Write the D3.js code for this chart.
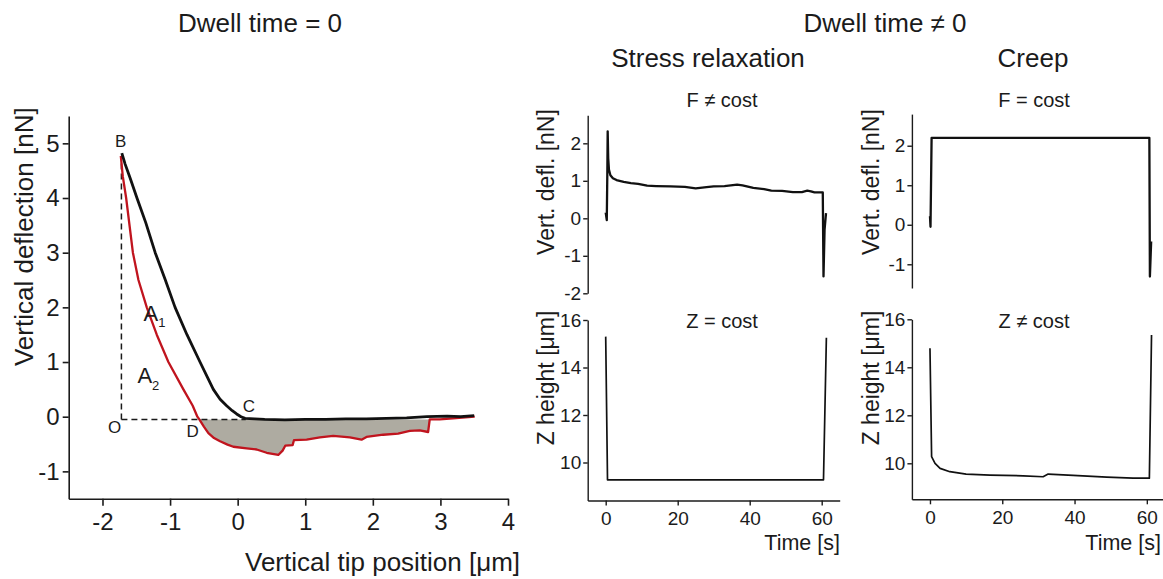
<!DOCTYPE html>
<html>
<head>
<meta charset="utf-8">
<script src="https://cdn.jsdelivr.net/npm/d3@7"></script>
<style>
    body { margin: 0; background: #fff; }
    svg { display: block; font-family: "Liberation Sans", Arial, sans-serif; }
    text { fill: #1b1b1b; }
</style>
</head>
<body>
<svg id="chart" width="1163" height="579"></svg>
<script>
// ---- Dwell time = 0 : force curve (approach / retract) ----
const approachX = [-1.714, -1.665, -1.59, -1.49, -1.36, -1.22, -1.07, -0.926, -0.75, -0.557, -0.45, -0.36, -0.26, -0.163, -0.08, -0.015, 0.05, 0.11, 0.25, 0.4, 0.7, 1.0, 1.3, 1.6, 1.9, 2.2, 2.5, 2.8, 3.1, 3.3, 3.5];
const approachY = [4.82, 4.62, 4.36, 4.0, 3.55, 3.0, 2.5, 2.0, 1.5, 1.0, 0.73, 0.5, 0.32, 0.2, 0.11, 0.05, 0.0, -0.03, -0.04, -0.05, -0.06, -0.05, -0.05, -0.04, -0.04, -0.03, -0.02, 0.0, 0.01, 0.0, 0.02];

const retractX = [-1.729, -1.70, -1.65, -1.55, -1.468, -1.345, -1.197, -1.025, -0.803, -0.665, -0.596, -0.567, -0.5, -0.433, -0.35, -0.261, -0.15, -0.064, 0.133, 0.281, 0.429, 0.601, 0.665, 0.704, 0.813, 0.833, 1.02, 1.217, 1.414, 1.66, 1.833, 1.906, 2.153, 2.374, 2.547, 2.695, 2.818, 2.842, 2.99, 3.187, 3.507];
const retractY = [4.77, 4.4, 4.0, 3.0, 2.5, 2.0, 1.5, 1.0, 0.5, 0.2, 0.0, -0.05, -0.18, -0.3, -0.39, -0.45, -0.51, -0.55, -0.58, -0.60, -0.66, -0.70, -0.62, -0.53, -0.52, -0.43, -0.42, -0.38, -0.35, -0.38, -0.42, -0.37, -0.33, -0.31, -0.26, -0.25, -0.28, -0.05, -0.05, -0.03, 0.0];

const baseLevel = -0.05;   // dashed O-C line / top of shaded area
const pointB = -1.72;       // x of vertical dashed line

const leftXTicks = [-2, -1, 0, 1, 2, 3, 4];
const leftXMinor = [-2.5, -1.5, -0.5, 0.5, 1.5, 2.5, 3.5];
const leftYTicks = [-1, 0, 1, 2, 3, 4, 5];
const leftYMinor = [-1.5, -0.5, 0.5, 1.5, 2.5, 3.5, 4.5, 5.5];

// ---- Stress relaxation ----
const srForceT = [0.0, 0.3, 0.45, 0.55, 0.7, 0.9, 1.3, 2, 3, 5, 7, 9, 11.5, 14, 18, 22, 25, 28, 30, 33, 36.5, 38, 41, 44, 46, 49, 52, 54.5, 56, 57, 58, 60.3, 60.5, 60.8, 61.2];
const srForceV = [0.15, -0.05, 1.2, 2.32, 1.6, 1.3, 1.15, 1.07, 1.02, 0.97, 0.94, 0.92, 0.87, 0.86, 0.85, 0.84, 0.80, 0.83, 0.85, 0.86, 0.90, 0.88, 0.81, 0.78, 0.74, 0.73, 0.70, 0.70, 0.74, 0.72, 0.69, 0.69, -1.55, -0.3, 0.14];
const srZT = [0, 0.5, 60.5, 61.3];
const srZV = [15.3, 9.27, 9.27, 15.25];

// ---- Creep ----
const crForceT = [0, 0.15, 0.45, 5, 10, 20, 30, 40, 50, 60.7, 60.85, 61.2];
const crForceV = [0.22, -0.05, 2.2, 2.2, 2.2, 2.2, 2.2, 2.2, 2.2, 2.2, -1.31, -0.42];
const crZT = [0, 0.45, 1.4, 2.8, 5.5, 10, 16.6, 25.8, 31.3, 32.7, 39.6, 48.9, 56.2, 60.7, 61.3];
const crZV = [14.79, 10.28, 10.0, 9.79, 9.65, 9.55, 9.51, 9.48, 9.44, 9.55, 9.5, 9.42, 9.38, 9.38, 15.35];

const timeTicks = [0, 20, 40, 60];
const timeMinor = [10, 30, 50];
const forceTicks = [-2, -1, 0, 1, 2];
const forceMinor = [-1.5, -0.5, 0.5, 1.5, 2.5];
const zTicks = [10, 12, 14, 16];
const zMinor = [9, 11, 13, 15];

const INK = '#1b1b1b';
const RED = '#c0141e';
const SHADE = '#aeaba1';

const svg = d3.select('#chart');

function zip(xs, ys) { return xs.map((x, i) => [x, ys[i]]); }

// Major + minor axis pair, styled the same way
function drawAxis(axisFn, scale, pos, major, minor, opts) {
    const g = svg.append('g').attr('transform', pos);
    g.call(axisFn(scale).tickValues(minor).tickSize(opts.minor).tickFormat(''));
    g.select('.domain').remove();
    g.call(axisFn(scale).tickValues(major).tickSize(opts.major).tickSizeOuter(0)
        .tickPadding(opts.pad).tickFormat(d => String(d)));
    g.selectAll('path.domain').attr('stroke', INK).attr('stroke-width', opts.width);
    g.selectAll('line').attr('stroke', INK).attr('stroke-width', opts.width);
    g.selectAll('text').attr('font-size', opts.font).attr('font-family', null).style('fill', INK);
    return g;
}

function label(x, y, str, size, anchor, rotate) {
    const t = svg.append('text')
        .attr('font-size', size)
        .attr('text-anchor', anchor || 'middle')
        .text(str);
    if (rotate) t.attr('transform', `translate(${x},${y}) rotate(-90)`);
    else t.attr('x', x).attr('y', y);
    return t;
}

// ================= Left panel =================
const xL = d3.scaleLinear().domain([-2.5, 4]).range([68.7, 508]);
const yL = d3.scaleLinear().domain([-1.5, 5.5]).range([498.7, 116]);

const retract = zip(retractX, retractY);
const approach = zip(approachX, approachY);

// shaded adhesion area D -> step near 2.85
const shaded = retract.filter(d => d[0] >= -0.567 && d[0] <= 2.842);
svg.append('path')
    .datum(shaded)
    .attr('fill', SHADE)
    .attr('d', d3.area().x(d => xL(d[0])).y0(yL(baseLevel)).y1(d => yL(d[1])));

// dashed O-B and O-C
svg.append('line')
    .attr('x1', xL(pointB)).attr('x2', xL(pointB))
    .attr('y1', yL(baseLevel)).attr('y2', yL(4.65))
    .attr('stroke', INK).attr('stroke-width', 1.5).attr('stroke-dasharray', '6,4');
svg.append('line')
    .attr('x1', xL(pointB)).attr('x2', xL(0.12))
    .attr('y1', yL(baseLevel)).attr('y2', yL(baseLevel))
    .attr('stroke', INK).attr('stroke-width', 1.5).attr('stroke-dasharray', '6,4');

const lineL = d3.line().x(d => xL(d[0])).y(d => yL(d[1]));
svg.append('path').datum(retract)
    .attr('fill', 'none').attr('stroke', RED).attr('stroke-width', 2.3)
    .attr('stroke-linejoin', 'round').attr('d', lineL);
svg.append('path').datum(approach)
    .attr('fill', 'none').attr('stroke', '#111').attr('stroke-width', 2.8)
    .attr('stroke-linejoin', 'round').attr('d', lineL);

drawAxis(d3.axisBottom, xL, `translate(0,${yL(-1.5)})`, leftXTicks, leftXMinor,
    { major: 7, minor: 4, pad: 7, font: 24, width: 1.6 });
drawAxis(d3.axisLeft, yL, `translate(${xL(-2.5)},0)`, leftYTicks, leftYMinor,
    { major: 6, minor: 3.5, pad: 3, font: 24, width: 1.6 });

// point labels
label(xL(-1.73), yL(4.94), 'B', 17);
label(xL(0.165), yL(0.09), 'C', 17);
label(xL(-1.82), yL(-0.30), 'O', 17);
label(xL(-0.667), yL(-0.37), 'D', 17);
const a1 = label(xL(-1.394), yL(1.755), 'A', 22, 'start');
a1.append('tspan').attr('dy', 6).attr('font-size', 13).text('1');
const a2 = label(xL(-1.483), yL(0.62), 'A', 22, 'start');
a2.append('tspan').attr('dy', 7).attr('font-size', 13).text('2');

label(33, 236.7, 'Vertical deflection [nN]', 26, 'middle', true);
label(245, 570.7, 'Vertical tip position [μm]', 26, 'start');

// ================= Titles =================
label(260, 32.3, 'Dwell time = 0', 26);
label(885, 32.3, 'Dwell time ≠ 0', 26);
label(708, 66.7, 'Stress relaxation', 26);
label(1033, 66.7, 'Creep', 26);

// ================= Small panels =================
function smallPanel(cfg) {
    const x = d3.scaleLinear().domain([-5, 65]).range(cfg.xRange);
    const yF = d3.scaleLinear().domain(cfg.fDomain).range(cfg.fRange);
    const yZ = d3.scaleLinear().domain(cfg.zDomain).range(cfg.zRange);

    svg.append('path').datum(zip(cfg.fT, cfg.fV))
        .attr('fill', 'none').attr('stroke', '#111').attr('stroke-width', 2.3)
        .attr('stroke-linejoin', 'round')
        .attr('d', d3.line().x(d => x(d[0])).y(d => yF(d[1])));
    svg.append('path').datum(zip(cfg.zT, cfg.zV))
        .attr('fill', 'none').attr('stroke', '#111').attr('stroke-width', 1.7)
        .attr('stroke-linejoin', 'round')
        .attr('d', d3.line().x(d => x(d[0])).y(d => yZ(d[1])));

    const ax = { major: 4.5, minor: 2.5, pad: 2, font: 19, width: 1.4 };
    drawAxis(d3.axisLeft, yF, `translate(${cfg.xRange[0]},0)`, cfg.fTicks, cfg.fMinor, ax);
    drawAxis(d3.axisLeft, yZ, `translate(${cfg.xRange[0]},0)`, zTicks, zMinor, ax);
    drawAxis(d3.axisBottom, x, `translate(0,${cfg.zRange[0]})`, timeTicks, timeMinor,
        { major: 5, minor: 3, pad: 6, font: 19, width: 1.4 });

    label(cfg.fLabelX, 106.7, cfg.fTitle, 20);
    label(cfg.fLabelX, 328.3, cfg.zTitle, 20);
    label(cfg.yLabelX, 182, 'Vert. defl. [nN]', 23, 'middle', true);
    label(cfg.yLabelX, 378, 'Z height [μm]', 23, 'middle', true);
    label(cfg.timeX, 550, 'Time [s]', 21.5, 'end');
}

smallPanel({
    xRange: [587.7, 839.7],
    fDomain: [-2, 2.75], fRange: [293.3, 115.2],
    zDomain: [8.4, 16], zRange: [500.5, 320],
    fTicks: forceTicks, fMinor: forceMinor,
    fT: srForceT, fV: srForceV, zT: srZT, zV: srZV,
    fTitle: 'F ≠ cost', zTitle: 'Z = cost',
    fLabelX: 722, yLabelX: 554, timeX: 840
});

smallPanel({
    xRange: [911.9, 1164.9],
    fDomain: [-1.6, 2.8], fRange: [288, 114.1],
    zDomain: [8.5, 16], zRange: [499.3, 319.3],
    fTicks: [-1, 0, 1, 2], fMinor: forceMinor,
    fT: crForceT, fV: crForceV, zT: crZT, zV: crZV,
    fTitle: 'F = cost', zTitle: 'Z ≠ cost',
    fLabelX: 1034, yLabelX: 879, timeX: 1161
});
</script>
</body>
</html>
